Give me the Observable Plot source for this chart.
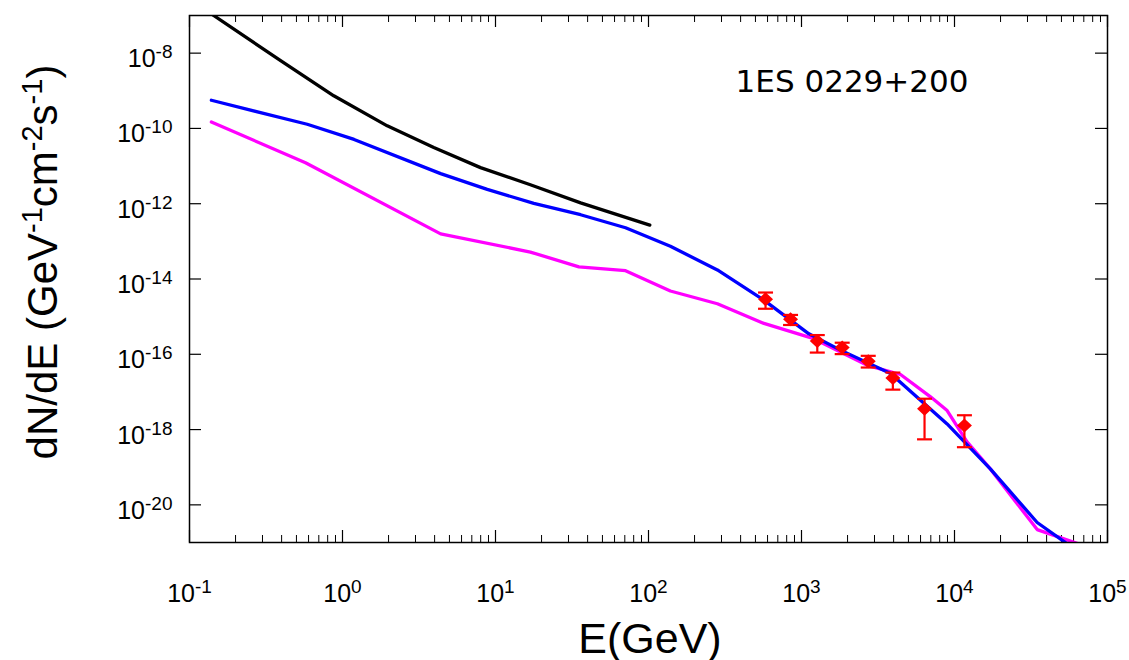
<!DOCTYPE html>
<html><head><meta charset="utf-8">
<script src="https://cdn.jsdelivr.net/npm/d3@7"></script>
<script src="https://cdn.jsdelivr.net/npm/@observablehq/plot@0.6"></script>
<style>body{margin:0;background:#fff} svg{display:block}</style>
</head><body><div id="chart"></div>
<script>
// ---- data ----
const blackE = [0.139, 0.394, 0.877, 1.96, 3.95, 7.98, 16.9, 36.0, 102];
const blackF = [1.1e-7, 6.3e-9, 7.36e-10, 1.17e-10, 3.1e-11, 9.1e-12, 3.2e-12, 1.05e-12, 2.7e-13];

const blueE = [0.139, 0.588, 1.19, 4.38, 8.83, 17.8, 36.0, 70.8, 139, 282, 568, 1117, 1800, 3820, 8950, 17200, 34700, 57300];
const blueF = [5.6e-10, 1.29e-10, 5.1e-11, 6.3e-12, 2.4e-12, 1.02e-12, 5.1e-13, 2.3e-13, 7.4e-14, 1.74e-14, 2.75e-15, 3.5e-16, 1.29e-16, 3.1e-17, 1.41e-18, 8.9e-20, 3.4e-21, 8e-22];

const magE = [0.139, 0.573, 4.38, 16.9, 35.1, 70.8, 139, 282, 568, 1202, 2690, 4440, 6970, 8950, 12080, 17200, 34700, 66200];
const magF = [1.48e-10, 1.23e-11, 1.58e-13, 5.2e-14, 2.1e-14, 1.66e-14, 4.8e-15, 2.2e-15, 6.6e-16, 2.6e-16, 5.1e-17, 2.9e-17, 7.4e-18, 3.2e-18, 4.7e-19, 8.9e-20, 2.2e-21, 8.9e-22];

const obsE  = [582, 848, 1268, 1845, 2730, 3955, 6370, 11610];
const obsF  = [2.89e-15, 8.47e-16, 2.24e-16, 1.52e-16, 6.58e-17, 2.36e-17, 3.59e-18, 1.29e-18];
const obsHi = [4.37e-15, 1.11e-15, 3.24e-16, 2.03e-16, 9.1e-17, 3.27e-17, 6.6e-18, 2.4e-18];
const obsLo = [1.62e-15, 6.0e-16, 1.11e-16, 1.01e-16, 4.45e-17, 1.15e-17, 5.5e-19, 3.4e-19];

const sourceName = "1ES 0229+200";
const xMajor = [1e-1, 1e0, 1e1, 1e2, 1e3, 1e4, 1e5];
const yMajor = [1e-20, 1e-18, 1e-16, 1e-14, 1e-12, 1e-10, 1e-8];
const xMinor = xMajor.slice(0, -1).flatMap(d => [2,3,4,5,6,7,8,9].map(k => k * d));

// ---- tables ----
const rows = (E, F) => E.map((e, i) => ({E: e, F: F[i]}));
const obs = obsE.map((e, i) => ({E: e, F: obsF[i], hi: obsHi[i], lo: obsLo[i]}));

const capSymbol = {draw(ctx) { const w = 7.5; ctx.moveTo(-w, 0); ctx.lineTo(w, 0); }};
const diamondSymbol = {draw(ctx) { const w = 7.5, h = 7; ctx.moveTo(0, -h); ctx.lineTo(w, 0); ctx.lineTo(0, h); ctx.lineTo(-w, 0); ctx.closePath(); }};

const W = 1129, H = 660, mL = 189, mR = 22, mT = 15, mB = 118;
const pw = W - mL - mR, ph = H - mT - mB;
const fmt = d => "10^" + Math.round(Math.log10(d));

const plot = Plot.plot({
  width: W, height: H,
  marginLeft: mL, marginRight: mR, marginTop: mT, marginBottom: mB,
  style: {fontFamily: "'Liberation Sans', Arial, sans-serif", fontSize: "25px", color: "black", background: "white", overflow: "visible"},
  x: {type: "log", domain: [1e-1, 1e5]},
  y: {type: "log", domain: [1e-21, 1e-7]},
  marks: [
    Plot.ruleX(xMajor, {insetTop: ph - 12, stroke: "black", strokeWidth: 1.2}),
    Plot.ruleX(xMajor, {insetBottom: ph - 12, stroke: "black", strokeWidth: 1.2}),
    Plot.ruleX(xMinor, {insetTop: ph - 7, stroke: "black", strokeWidth: 1}),
    Plot.ruleX(xMinor, {insetBottom: ph - 7, stroke: "black", strokeWidth: 1}),
    Plot.ruleY(yMajor, {insetRight: pw - 12, stroke: "black", strokeWidth: 1.2}),
    Plot.ruleY(yMajor, {insetLeft: pw - 12, stroke: "black", strokeWidth: 1.2}),
    Plot.line(rows(blackE, blackF), {x: "E", y: "F", stroke: "#000000", strokeWidth: 3.3, clip: true}),
    Plot.line(rows(magE, magF), {x: "E", y: "F", stroke: "#ff00ff", strokeWidth: 3.3, clip: true}),
    Plot.line(rows(blueE, blueF), {x: "E", y: "F", stroke: "#0000ff", strokeWidth: 3.3, clip: true}),
    Plot.ruleX(obs, {x: "E", y1: "lo", y2: "hi", stroke: "#ff0000", strokeWidth: 2.2}),
    Plot.dot(obs, {x: "E", y: "hi", symbol: capSymbol, r: 5, fill: "none", stroke: "#ff0000", strokeWidth: 2.2}),
    Plot.dot(obs, {x: "E", y: "lo", symbol: capSymbol, r: 5, fill: "none", stroke: "#ff0000", strokeWidth: 2.2}),
    Plot.dot(obs, {x: "E", y: "F", symbol: diamondSymbol, r: 5, fill: "#ff0000", stroke: "none"}),
    Plot.frame({stroke: "black", strokeWidth: 1.5}),
    Plot.text([sourceName], {text: d => d, frameAnchor: "top-right", textAnchor: "end", lineAnchor: "middle", dx: -139, dy: 67, fontSize: 31, fontFamily: "'DejaVu Sans', sans-serif", fill: "black"}),
    Plot.axisX({ticks: xMajor, tickSize: 0, tickPadding: 42, tickFormat: fmt, label: null}),
    Plot.axisY({ticks: yMajor, tickSize: 0, tickPadding: 17, tickFormat: fmt, label: null, dy: 6})
  ]
});

const svg = d3.select(plot);
svg.selectAll('g[aria-label="x-axis tick label"] text, g[aria-label="y-axis tick label"] text').each(function () {
  const t = d3.select(this);
  const m = t.text().match(/^10\^(-?\d+)$/);
  if (!m) return;
  t.text(null);
  t.append("tspan").text("10");
  t.append("tspan").attr("dy", -9).attr("font-size", 19).text(m[1]);
});

function richText(g, parts, supSize, shift) {
  let wasSup = false;
  parts.forEach(([s, sup]) => {
    const ts = g.append("tspan").text(s);
    if (sup) ts.attr("font-size", supSize).attr("dy", -shift);
    else if (wasSup) ts.attr("dy", shift);
    wasSup = !!sup;
  });
}

const yTitle = svg.append("text")
  .attr("transform", `translate(57,262) rotate(-90)`)
  .attr("text-anchor", "middle").attr("font-size", 42).attr("fill", "black")
  .attr("font-family", "'Liberation Sans', Arial, sans-serif");
richText(yTitle, [["dN/dE (GeV"], ["-1", 1], ["cm"], ["-2", 1], ["s"], ["-1", 1], [")"]], 29, 15);

svg.append("text")
  .attr("x", 650).attr("y", 653)
  .attr("text-anchor", "middle").attr("font-size", 43).attr("fill", "black")
  .attr("font-family", "'Liberation Sans', Arial, sans-serif")
  .text("E(GeV)");

document.getElementById("chart").appendChild(plot);
</script>
</body></html>
